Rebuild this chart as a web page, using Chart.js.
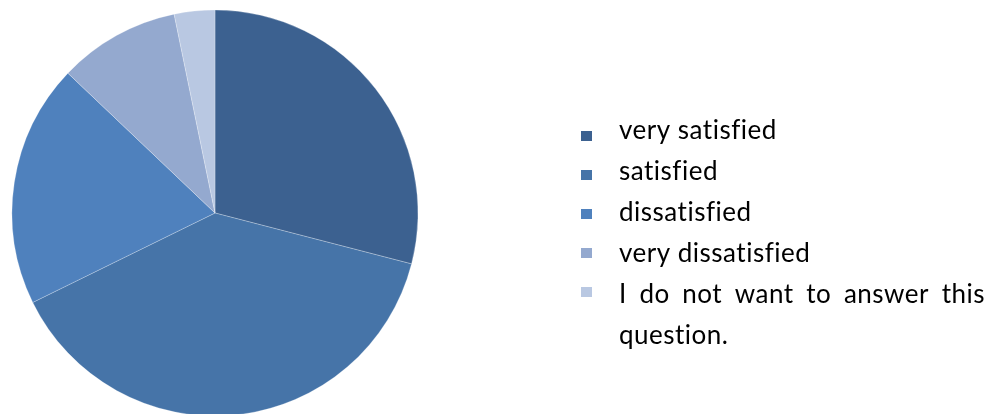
<!DOCTYPE html>
<html>
<head>
<meta charset="utf-8">
<script src="https://cdn.jsdelivr.net/npm/chart.js@4"></script>
<style>
  html, body { margin: 0; padding: 0; background: #fff; }
  #wrap { width: 997px; height: 414px; position: relative; }
</style>
</head>
<body>
<div id="wrap"><canvas id="pie"></canvas></div>
<script>
// answers counted per option
const categories = ['very satisfied', 'satisfied', 'dissatisfied', 'very dissatisfied', 'I do not want to answer this question.'];
const counts = [9, 12, 6, 3, 1];
const colors = ['#3C6190', '#4674A8', '#4F81BD', '#94A9CF', '#B9C8E2'];

const FONT = '"Lato", "Liberation Sans", sans-serif';

// legend drawn by hand: squares left, text wrapped + justified like the original
const sideLegend = {
  id: 'sideLegend',
  afterDraw(chart) {
    const ctx = chart.ctx;
    const markX = 581, textX = 619, rightEdge = 985;
    ctx.save();
    ctx.font = '26px ' + FONT;
    ctx.letterSpacing = '0.5px'; // also stops the fi ligature
    ctx.textBaseline = 'alphabetic';
    chart.data.labels.forEach((lab, i) => {
      const mc = 136 + 39 * i;
      ctx.fillStyle = chart.data.datasets[0].backgroundColor[i];
      ctx.fillRect(markX, mc - 5, 11, 10);
      ctx.fillStyle = '#000';
      const base = 139 + 41 * i;
      const maxW = rightEdge - textX;
      if (ctx.measureText(lab).width <= maxW) {
        ctx.fillText(lab, textX, base);
        return;
      }
      // wrap, justify all but last line
      const words = lab.split(' ');
      const lines = [];
      let cur = [];
      words.forEach(w => {
        const t = cur.concat(w).join(' ');
        if (ctx.measureText(t).width > maxW && cur.length) { lines.push(cur); cur = [w]; }
        else cur.push(w);
      });
      lines.push(cur);
      lines.forEach((ws, li) => {
        const y = base + li * 41;
        if (li === lines.length - 1 || ws.length < 2) { ctx.fillText(ws.join(' '), textX, y); return; }
        const total = ws.reduce((s, w) => s + ctx.measureText(w).width, 0);
        const gap = (maxW - total) / (ws.length - 1);
        let x = textX;
        ws.forEach(w => { ctx.fillText(w, x, y); x += ctx.measureText(w).width + gap; });
      });
    });
    ctx.restore();
  }
};

new Chart(document.getElementById('pie'), {
  type: 'pie',
  data: {
    labels: categories,
    datasets: [{
      data: counts,
      backgroundColor: colors,
      borderColor: 'rgba(255,255,255,0.5)',
      borderWidth: 0.5,
      radius: 203
    }]
  },
  options: {
    responsive: true,
    maintainAspectRatio: false,
    animation: false,
    layout: { padding: { left: 12, right: 579, top: 12, bottom: 0 } },
    plugins: { legend: { display: false }, tooltip: { enabled: false } }
  },
  plugins: [sideLegend]
});
</script>
</body>
</html>
